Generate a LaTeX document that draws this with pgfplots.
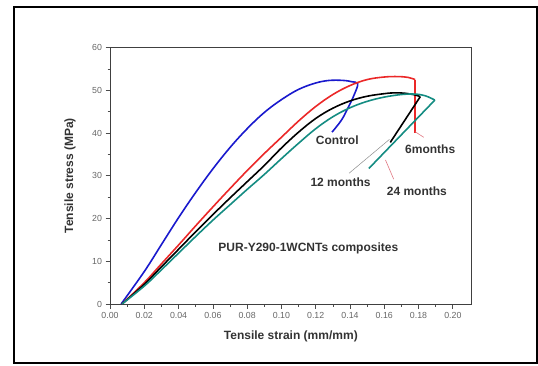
\documentclass[border=0pt]{standalone}
\usepackage{pgfplots}
\pgfplotsset{compat=1.18}
\usepackage{fontspec}
\setmainfont{Liberation Sans}
\definecolor{cblue}{RGB}{25,25,205}
\definecolor{cred}{RGB}{235,40,40}
\definecolor{cteal}{RGB}{20,140,130}
\definecolor{cpink}{RGB}{225,120,130}
\begin{document}
\begin{tikzpicture}
\useasboundingbox (0pt,0pt) rectangle (538pt,365pt);
\draw[line width=2pt] (14pt,2.5pt) rectangle (536.5pt,358pt);
\begin{axis}[
  at={(110pt,61pt)}, anchor=south west, scale only axis,
  width=361.7pt, height=256.5pt,
  xmin=0, xmax=0.211, ymin=0, ymax=60,
  axis line style={black!75, line width=0.9pt},
  xtick={0,0.02,0.04,0.06,0.08,0.10,0.12,0.14,0.16,0.18,0.20},
  ytick={0,10,20,30,40,50,60},
  minor x tick num=1, minor y tick num=1,
  xtick pos=bottom, ytick pos=left,
  tick align=outside,
  major tick length=4.5pt, minor tick length=2.5pt,
  every tick/.style={black!70, line width=0.7pt},
  /pgf/number format/assume math mode=true,
  xticklabel style={/pgf/number format/.cd, fixed, fixed zerofill, precision=2},
  tick label style={font=\fontsize{8.8}{10}\selectfont, text=black!60},
  xlabel={Tensile strain (mm/mm)},
  ylabel={Tensile stress (MPa)},
  label style={font=\fontsize{12}{14}\selectfont\bfseries, text=black!80},
  xlabel style={at={(axis description cs:0.5,-0.125)}, anchor=center},
  ylabel style={at={(axis description cs:-0.1106,0.5)}, anchor=center},
  clip=false,
]
% Control
\addplot[cblue, line width=1.6pt, smooth, tension=0.6] coordinates {
(0.0065,0) (0.020,7.6) (0.030,13.9) (0.040,20.2) (0.050,26.1)
(0.060,31.6) (0.070,36.6) (0.080,41.0) (0.090,44.8) (0.100,47.8) (0.110,50.2)
(0.120,51.7) (0.128,52.3) (0.136,52.3) (0.141,52.0) (0.1445,51.5)
(0.1425,49.0) (0.139,46.0) (0.135,43.0) (0.1295,40.2)};
% 6 months
\addplot[cred, line width=1.6pt, smooth, tension=0.6] coordinates {
(0.007,0) (0.020,5.0) (0.030,9.4) (0.040,13.8) (0.050,18.3)
(0.060,22.7) (0.070,27.0) (0.080,31.2) (0.090,35.2) (0.100,39.0) (0.110,42.8)
(0.120,46.2) (0.130,49.0) (0.140,51.1) (0.150,52.5) (0.160,53.1) (0.168,53.2)
(0.174,53.0) (0.178,52.5)};
\addplot[cred, line width=1.6pt] coordinates {(0.178,52.5) (0.178,40.0)};
% 12 months
\addplot[black, line width=1.6pt, smooth, tension=0.6] coordinates {
(0.007,0) (0.020,4.6) (0.030,8.7) (0.040,12.8) (0.050,16.9)
(0.060,20.9) (0.070,24.8) (0.080,28.6) (0.090,32.4) (0.100,36.5) (0.110,40.2)
(0.120,43.4) (0.130,45.8) (0.140,47.5) (0.150,48.6) (0.160,49.2) (0.166,49.4)
(0.172,49.3) (0.178,48.9) (0.181,48.5)};
\addplot[black, line width=1.6pt] coordinates {(0.181,48.5) (0.1635,37.8)};
% 24 months
\addplot[cteal, line width=1.6pt, smooth, tension=0.6] coordinates {
(0.007,0) (0.020,4.2) (0.030,8.0) (0.040,11.9) (0.050,15.8)
(0.060,19.6) (0.070,23.2) (0.080,26.8) (0.090,30.3) (0.100,34.0) (0.110,37.6)
(0.120,41.0) (0.130,43.8) (0.140,45.9) (0.150,47.4) (0.160,48.4) (0.170,49.0)
(0.178,49.1) (0.184,48.7) (0.1895,47.7)};
\addplot[cteal, line width=1.6pt] coordinates {(0.1895,47.7) (0.151,31.7)};
% pointers
\draw[black!45, line width=0.5pt] (axis cs:0.1395,30.6) -- (axis cs:0.163,38.5);
\draw[cpink, line width=0.6pt] (axis cs:0.1607,33.7) -- (axis cs:0.1655,29.2);
\draw[cpink, line width=0.6pt] (axis cs:0.178,40.3) -- (axis cs:0.183,39.0);
% annotations
\begin{scope}[every node/.style={font=\fontsize{12}{14}\selectfont\bfseries, text=black!80}]
\node at (axis cs:0.1326,38.4) {Control};
\node at (axis cs:0.1868,36.2) {6months};
\node at (axis cs:0.1345,28.6) {12 months};
\node at (axis cs:0.1790,26.3) {24 months};
\node at (axis cs:0.1157,13.1) {PUR-Y290-1WCNTs composites};
\end{scope}
\end{axis}
\end{tikzpicture}
\end{document}
